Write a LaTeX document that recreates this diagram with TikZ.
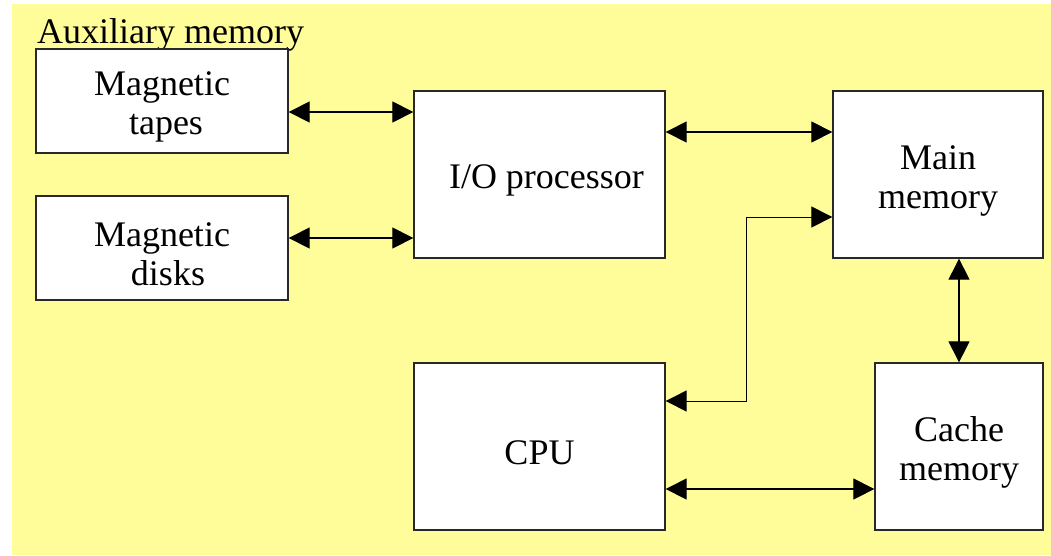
\documentclass[tikz,border=0pt]{standalone}
\usepackage{fontspec}
\setmainfont{Liberation Serif}
\usetikzlibrary{arrows.meta}
\definecolor{bgyellow}{RGB}{255,253,153}
\definecolor{edge}{RGB}{40,40,40}
\tikzset{
  unit/.style={draw=edge, line width=1.3pt, fill=white, inner sep=0pt},
  lbl/.style={align=center, inner sep=0pt, yshift=-6pt,
    font=\fontsize{36}{39}\selectfont},
  link/.style={draw=black, line width=1.2pt,
    {Triangle[length=21pt,width=21pt]}-{Triangle[length=21pt,width=21pt]}},
}
\begin{document}
\begin{tikzpicture}[x=1pt,y=-1pt]
\useasboundingbox (0,0) rectangle (1051,555);
\fill[bgyellow] (12,4) rectangle (1051,555);

% title of the auxiliary memory group
\node[anchor=base west, inner sep=0pt, font=\fontsize{36}{40}\selectfont] (aux) at (37,43) {Auxiliary memory};

% units
\node[unit, minimum width=252pt, minimum height=104pt,
  label={[lbl]center:Magnetic\\\hspace*{8pt}tapes}] (tapes) at (162,101) {};
\node[unit, minimum width=252pt, minimum height=104pt,
  label={[lbl]center:Magnetic\\\hspace*{12pt}disks}] (disks) at (162,248) {};
\node[unit, minimum width=251pt, minimum height=167pt,
  label={[lbl]center:\hspace*{14pt}I/O processor}] (io) at (539.5,174.5) {};
\node[unit, minimum width=210pt, minimum height=167pt,
  label={[lbl]center:Main\\memory}] (main) at (938,174.5) {};
\node[unit, minimum width=251pt, minimum height=167pt,
  label={[lbl]center:CPU}] (cpu) at (539.5,446.5) {};
\node[unit, minimum width=168pt, minimum height=167pt,
  label={[lbl]center:Cache\\memory}] (cache) at (959,446.5) {};

% connections
\draw[link] (tapes.east |- 0,112) -- (io.west |- 0,112);
\draw[link] (disks.east |- 0,238) -- (io.west |- 0,238);
\draw[link] (io.east |- 0,132) -- (main.west |- 0,132);
\coordinate (bend) at (746,217);
\draw[link, line width=1pt] (cpu.east |- 0,401) -| (bend) -- (main.west |- bend);
\draw[link] (cpu.east |- 0,489) -- (cache.west |- 0,489);
\draw[link] (cache.north |- main.south) -- (cache.north);
\end{tikzpicture}
\end{document}
